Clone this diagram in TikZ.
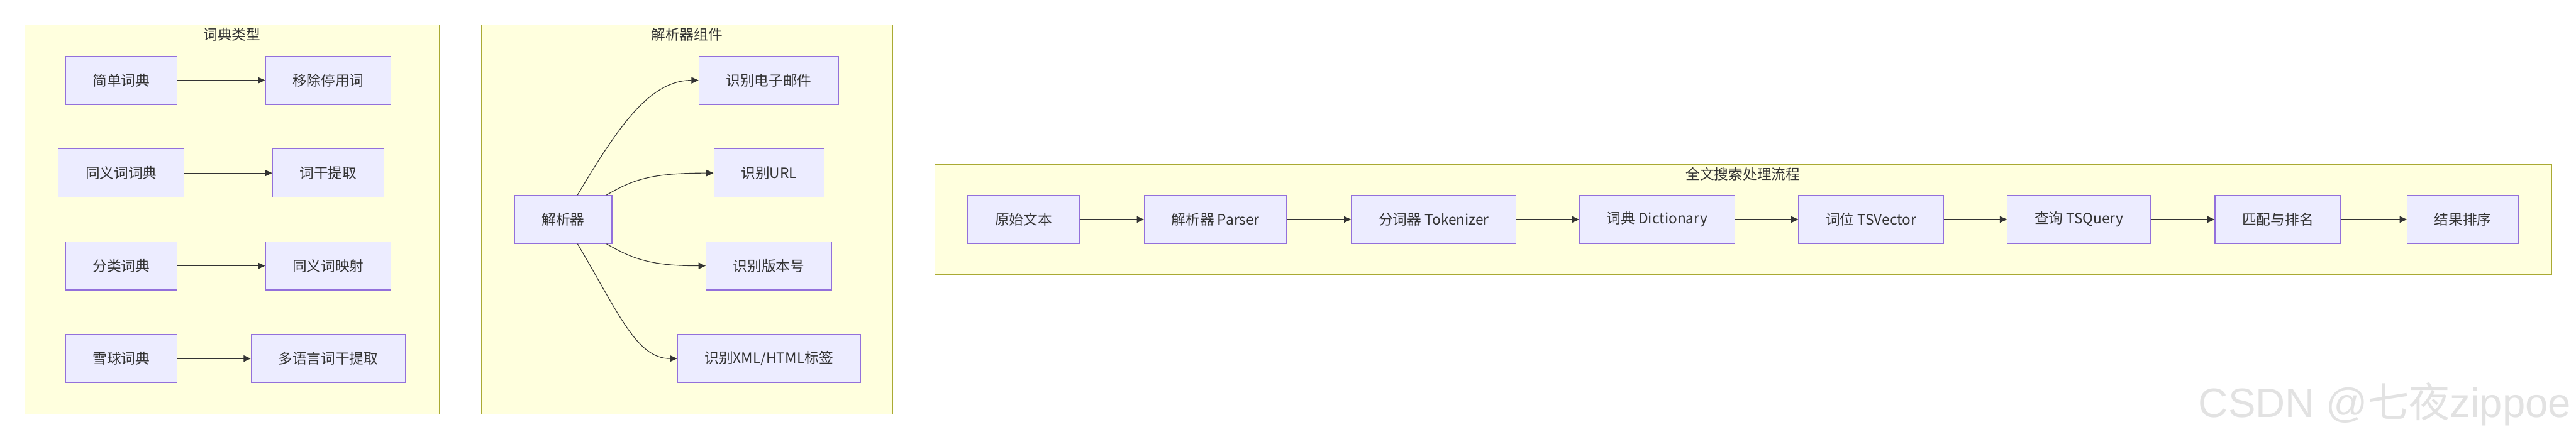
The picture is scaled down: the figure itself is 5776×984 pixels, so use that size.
\documentclass[tikz,border=0pt]{standalone}
\usepackage{fontspec}
\setmainfont{Noto Sans CJK SC}
\newfontfamily\wmfont{Liberation Sans}
\newfontfamily\cjk{Noto Sans CJK SC}
\usetikzlibrary{arrows.meta}
\definecolor{nodefill}{HTML}{ECECFF}
\definecolor{nodeline}{HTML}{9370DB}
\definecolor{clusterfill}{HTML}{FFFFDE}
\definecolor{clusterline}{HTML}{AAAA33}
\definecolor{textgray}{HTML}{333333}
\definecolor{markgray}{HTML}{E2E2E2}
\tikzset{
  box/.style={draw=nodeline, fill=nodefill, line width=0.4pt, minimum height=27pt, inner xsep=15.25pt, text=textgray, font=\fontsize{8pt}{9.6pt}\selectfont},
  cluster/.style={draw=clusterline, fill=clusterfill, line width=0.4pt},
  clustertitle/.style={text=textgray, font=\fontsize{8pt}{9.6pt}\selectfont},
  link/.style={draw=textgray, line width=0.4pt, -{Triangle[length=4pt,width=3.6pt]}},
}
\begin{document}
\begin{tikzpicture}[x=0.25pt,y=-0.25pt]
\useasboundingbox (0,0) rectangle (5776,984);
% clusters
\draw[cluster] (56,56) rectangle (985,928);
\draw[cluster] (1080,56) rectangle (2001,928);
\draw[cluster] (2096,368) rectangle (5721,616);
\node[clustertitle] (dicttitle) at (520,78) {词典类型};
\node[clustertitle] (parsetitle) at (1540,78) {解析器组件};
\node[clustertitle] (flowtitle) at (3908,390) {全文搜索处理流程};
% dictionary types
\node[box] (simple) at (272,180) {简单词典};
\node[box] (stop) at (736,180) {移除停用词};
\node[box] (syn) at (272,388) {同义词词典};
\node[box] (stem) at (736,388) {词干提取};
\node[box] (thes) at (272,596) {分类词典};
\node[box] (synmap) at (736,596) {同义词映射};
\node[box] (snow) at (272,804) {雪球词典};
\node[box] (multi) at (736,804) {多语言词干提取};
\draw[link] (simple) -- (stop);
\draw[link] (syn) -- (stem);
\draw[link] (thes) -- (synmap);
\draw[link] (snow) -- (multi);
% parser components
\node[box] (parser) at (1263,492) {解析器};
\node[box] (email) at (1724,180) {识别电子邮件};
\node[box] (url) at (1724,388) {识别URL};
\node[box] (version) at (1724,596) {识别版本号};
\node[box] (tag) at (1724,804) {识别XML/HTML标签};
\draw[link] ([xshift=8pt]parser.north) .. controls +(94,-159) and +(-107,0) .. (email.west);
\draw[link] ([xshift=24.25pt]parser.north) .. controls +(59,-34) and +(-143,0) .. (url.west);
\draw[link] ([xshift=24.25pt]parser.south) .. controls +(59,34) and +(-123,0) .. (version.west);
\draw[link] ([xshift=8pt]parser.south) .. controls +(94,159) and +(-90,0) .. (tag.west);
% search flow
\node[box] (raw) at (2295,492) {原始文本};
\node[box] (prs) at (2725.5,492) {解析器 Parser};
\node[box] (tok) at (3215,492) {分词器 Tokenizer};
\node[box] (dict) at (3715.5,492) {词典 Dictionary};
\node[box] (vec) at (4195.5,492) {词位 TSVector};
\node[box] (qry) at (4661.5,492) {查询 TSQuery};
\node[box] (rank) at (5107.5,492) {匹配与排名};
\node[box] (result) at (5522.5,492) {结果排序};
\draw[link] (raw) -- (prs);
\draw[link] (prs) -- (tok);
\draw[link] (tok) -- (dict);
\draw[link] (dict) -- (vec);
\draw[link] (vec) -- (qry);
\draw[link] (qry) -- (rank);
\draw[link] (rank) -- (result);
% watermark
\node[anchor=base west, inner sep=0pt, text=markgray, font=\wmfont\fontsize{23pt}{27pt}\selectfont] (mark) at (4929,935) {CSDN @{\cjk 七夜}zippoe};
\end{tikzpicture}
\end{document}
